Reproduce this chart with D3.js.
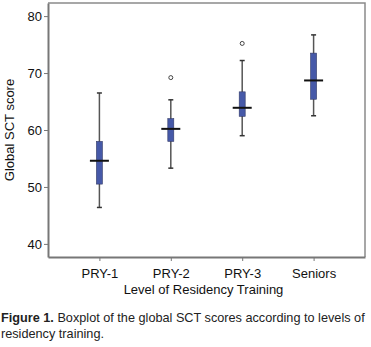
<!DOCTYPE html>
<html>
<head>
<meta charset="utf-8">
<script src="https://cdn.jsdelivr.net/npm/d3@7"></script>
<style>
  body { margin: 0; background: #fff; overflow: hidden; }
  text { font-family: "Liberation Sans", Arial, sans-serif; }
</style>
</head>
<body>
<div id="chart"></div>
<script>
const categories = ["PRY-1", "PRY-2", "PRY-3", "Seniors"];
const whiskerLow = [46.4, 53.3, 59.0, 62.5];
const q1 = [50.5, 58.0, 62.4, 65.4];
const medians = [54.6, 60.2, 63.9, 68.7];
const q3 = [58.0, 62.0, 66.7, 73.5];
const whiskerHigh = [66.5, 65.3, 72.2, 76.7];
const outliers = [[], [69.2], [75.2], []];
const yTicks = [40, 50, 60, 70, 80];

const W = 371, H = 347;
const margin = { top: 3, right: 6, bottom: 90, left: 48 };

const svg = d3.select("#chart").append("svg")
  .attr("width", W).attr("height", H);

const x = d3.scalePoint()
  .domain(categories)
  .range([margin.left, W - margin.right])
  .padding(0.72);

const y = d3.scaleLinear()
  .domain([37.7, 82.3])
  .range([H - margin.bottom, margin.top]);

const stats = categories.map((c, i) => ({
  cat: c, lo: whiskerLow[i], q1: q1[i], med: medians[i], q3: q3[i], hi: whiskerHigh[i], out: outliers[i]
}));

// frame (top + right)
svg.append("path")
  .attr("d", `M${margin.left},${margin.top}H${W - margin.right}V${H - margin.bottom}`)
  .attr("fill", "none").attr("stroke", "#8a8a8a").attr("stroke-width", 1.5);

// axes
const yAxis = svg.append("g")
  .attr("transform", `translate(${margin.left},0)`)
  .call(d3.axisLeft(y).tickValues(yTicks).tickSize(4).tickSizeOuter(0));
const xAxis = svg.append("g")
  .attr("transform", `translate(0,${H - margin.bottom})`)
  .call(d3.axisBottom(x).tickSize(4).tickSizeOuter(0));

[yAxis, xAxis].forEach(a => {
  a.select(".domain").attr("stroke", "#777").attr("stroke-width", 2);
  a.selectAll(".tick line").attr("stroke", "#777").attr("stroke-width", 1);
  a.selectAll("text").attr("fill", "#111").style("font-size", "13px");
});
xAxis.selectAll("text").attr("dy", "1.1em");
yAxis.selectAll("text").attr("x", -6);

const g = svg.append("g").selectAll("g").data(stats).join("g")
  .attr("transform", d => `translate(${x(d.cat)},0)`);

// whiskers
g.append("line")
  .attr("y1", d => y(d.lo)).attr("y2", d => y(d.hi))
  .attr("stroke", "#555").attr("stroke-width", 1.5);
g.selectAll(".cap").data(d => [d.lo, d.hi]).join("line")
  .attr("x1", -2.5).attr("x2", 2.5)
  .attr("y1", v => y(v)).attr("y2", v => y(v))
  .attr("stroke", "#333").attr("stroke-width", 1.5);

// boxes
g.append("rect")
  .attr("x", -3).attr("width", 6)
  .attr("y", d => y(d.q3)).attr("height", d => y(d.q1) - y(d.q3))
  .attr("fill", "#4659a8").attr("stroke", "#333a66").attr("stroke-width", 0.6);

// medians
g.append("line")
  .attr("x1", -9.5).attr("x2", 9.5)
  .attr("y1", d => y(d.med)).attr("y2", d => y(d.med))
  .attr("stroke", "#111").attr("stroke-width", 2);

// outliers
g.selectAll(".out").data(d => d.out).join("circle")
  .attr("cy", v => y(v)).attr("r", 2)
  .attr("fill", "#fff").attr("stroke", "#444").attr("stroke-width", 1);

// titles
svg.append("text")
  .attr("transform", `translate(14,${(margin.top + H - margin.bottom) / 2}) rotate(-90)`)
  .attr("text-anchor", "middle")
  .style("font-size", "13px").attr("fill", "#111")
  .text("Global SCT score");

svg.append("text")
  .attr("x", (margin.left + W - margin.right) / 2 - 3).attr("y", 294)
  .attr("text-anchor", "middle")
  .style("font-size", "13px").attr("fill", "#111")
  .text("Level of Residency Training");

const cap = svg.append("text").style("font-size", "12.7px").attr("fill", "#222");
cap.append("tspan").attr("x", 1).attr("y", 322).style("font-weight", "bold").text("Figure 1.");
cap.append("tspan").text(" Boxplot of the global SCT scores according to levels of");
cap.append("tspan").attr("x", 1).attr("y", 338).text("residency training.");
</script>
</body>
</html>
